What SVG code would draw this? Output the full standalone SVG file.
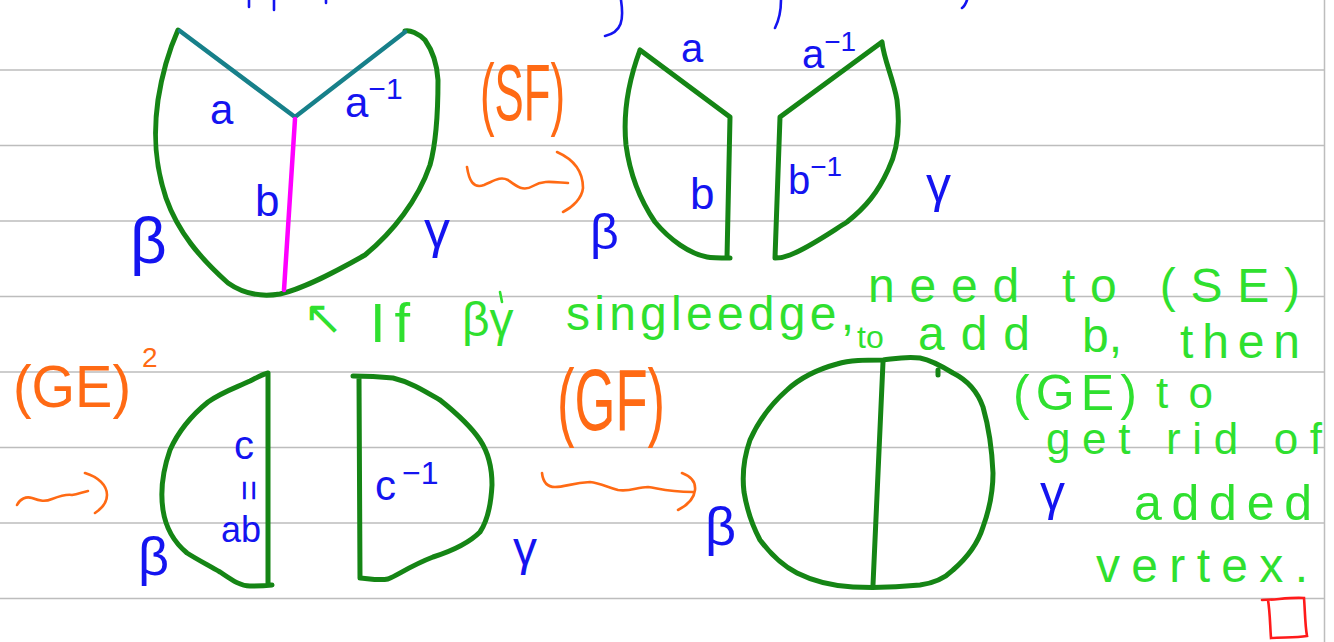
<svg xmlns="http://www.w3.org/2000/svg" width="1334" height="642" viewBox="0 0 1334 642">
<style>
.rule{stroke:#bdbdbd;stroke-width:1.5;fill:none}
.out{stroke:#158515;stroke-width:5;fill:none;stroke-linecap:round;stroke-linejoin:round}
.teal{stroke:#17808a;stroke-width:4.5;fill:none;stroke-linecap:round}
.mag{stroke:#ff00ff;stroke-width:4.5;fill:none;stroke-linecap:round}
.or{stroke:#ff6a14;stroke-width:2.6;fill:none;stroke-linecap:round;stroke-linejoin:round}
.bl{stroke:#1414f0;stroke-width:2.6;fill:none;stroke-linecap:round}
.tb{fill:#1414f0;font-family:"Liberation Sans",Arial,sans-serif}
.tg{fill:#2fe02f;font-family:"Liberation Sans",Arial,sans-serif}
.to{fill:#ff6a14;font-family:"Liberation Sans",Arial,sans-serif}
</style>
<rect width="1334" height="642" fill="#ffffff"/>
<g id="paper">
<path class="rule" d="M0,70H1324M0,145.5H1324M0,221H1324M0,296.5H1324M0,372H1324M0,447.5H1324M0,523H1324M0,598.5H1324M1324.5,0V642"/>
</g>
<g id="top-fragments">
<path class="bl" d="M249,0V7M274,0V10M326,0V3M621,0C624,20 622,32 605,36M781,0C781,10 779,20 775,28M967,0C966,3 965,6 962,8"/>
</g>
<g id="fig1">
<path class="out" d="M178,30C170,48 163,68 158,100C153,135 155,165 166,198C178,232 200,258 228,283C245,295 262,297 280,294C305,288 335,272 365,255C393,232 418,200 430,165C437,140 438,110 438,80C437,62 432,50 425,40C418,33 410,30 405,31"/>
<path class="teal" d="M180,31L295,117L405,32"/>
<path class="mag" d="M295,119L284,290"/>
<text class="tb" x="210" y="124" font-size="42">a</text>
<text class="tb" x="345" y="117" font-size="42">a<tspan font-size="30" dy="-18">−1</tspan></text>
<text class="tb" x="255" y="216" font-size="44">b</text>
<text class="tb" x="130" y="263" font-size="64">β</text>
<text class="tb" x="424" y="247" font-size="52">γ</text>
</g>
<g id="arrow-sf">
<text class="to" x="480" y="120" font-size="80" textLength="85" lengthAdjust="spacingAndGlyphs">(SF)</text>
<path class="or" d="M467,167C469,180 473,189 484,185C494,181 500,176 508,180C516,186 523,192 533,186C543,180 552,182 568,183"/>
<path class="or" d="M557,152C575,160 583,172 583,188C582,198 573,207 563,212"/>
</g>
<g id="fig2-left">
<path class="out" d="M640,50L730,117L727,258M730,258C720,258 712,258 707,257C690,254 670,240 655,222C640,200 630,175 626,145C623,115 627,85 640,50"/>
<text class="tb" x="681" y="62" font-size="40">a</text>
<text class="tb" x="690" y="209" font-size="44">b</text>
<text class="tb" x="590" y="249" font-size="50">β</text>
</g>
<g id="fig2-right">
<path class="out" d="M775,258L780,117L882,42C884,60 893,78 897,100C900,125 898,150 888,170C878,192 866,207 847,222C825,236 808,248 790,255C783,258 778,258 775,258"/>
<text class="tb" x="802" y="68" font-size="40">a<tspan font-size="28" dy="-17">−1</tspan></text>
<text class="tb" x="788" y="194" font-size="40">b<tspan font-size="28" dy="-18">−1</tspan></text>
<text class="tb" x="926" y="202" font-size="50">γ</text>
</g>
<g id="note">
<text class="tg" x="303" y="334" font-size="48">↖</text>
<text class="tg" x="370" y="342" font-size="56" textLength="40" lengthAdjust="spacing">If</text>
<text class="tg" x="462" y="336" font-size="48">βγ</text>
<path d="M500,292L502,302" stroke="#2fe02f" stroke-width="2.6" stroke-linecap="round"/>
<text class="tg" x="566" y="330" font-size="48" textLength="288" lengthAdjust="spacing">singleedge,</text>
<text class="tg" x="868" y="302" font-size="48" textLength="432" lengthAdjust="spacing">need  to  (SE)</text>
<text class="tg" x="857" y="348" font-size="32">to</text>
<text class="tg" x="918" y="350" font-size="48" textLength="112" lengthAdjust="spacing">add</text>
<text class="tg" x="1082" y="352" font-size="48">b,</text>
<text class="tg" x="1180" y="358" font-size="48" textLength="120" lengthAdjust="spacing">then</text>
<text class="tg" x="1013" y="410" font-size="50" textLength="124" lengthAdjust="spacing">(GE)</text>
<text class="tg" x="1156" y="408" font-size="44" textLength="57" lengthAdjust="spacing">to</text>
<text class="tg" x="1046" y="454" font-size="44" textLength="276" lengthAdjust="spacing">get rid of</text>
<text class="tg" x="1134" y="520" font-size="50" textLength="178" lengthAdjust="spacing">added</text>
<text class="tg" x="1096" y="582" font-size="48" textLength="212" lengthAdjust="spacing">vertex.</text>
</g>
<g id="arrow-ge">
<text class="to" x="13" y="407" font-size="60" textLength="118" lengthAdjust="spacingAndGlyphs">(GE)</text>
<text class="to" x="142" y="367" font-size="28">2</text>
<path class="or" d="M17,505C20,499 26,496 32,498C40,501 45,502 52,499C60,496 66,494 72,495C78,494 83,492 88,491"/>
<path class="or" d="M85,473C98,477 107,485 107,495C107,503 101,509 95,513"/>
</g>
<g id="fig3-left">
<path class="out" d="M268,373L268,585M272,585C262,586 255,586 250,586C240,586 232,580 220,572C208,565 198,560 187,553C175,543 166,530 163,510C160,490 163,470 170,450C178,432 192,415 208,402C222,392 235,388 250,381C258,377 263,374 268,373"/>
<text class="tb" x="234" y="459" font-size="40">c</text>
<text class="tb" x="0" y="0" font-size="36" transform="translate(237,480) rotate(90)">=</text>
<text class="tb" x="221" y="542" font-size="36">ab</text>
<text class="tb" x="138" y="575" font-size="54">β</text>
</g>
<g id="fig3-right">
<path class="out" d="M359,377L360,578M353,376C370,376 383,377 393,378C410,382 423,390 440,400C455,412 470,425 480,440C490,455 492,470 492,485C491,505 488,520 480,532C470,542 455,550 433,557C410,566 398,575 388,579C378,581 366,578 360,578"/>
<text class="tb" x="375" y="500" font-size="42">c<tspan font-size="32" dx="6" dy="-16">−1</tspan></text>
<text class="tb" x="513" y="565" font-size="48">γ</text>
</g>
<g id="arrow-gf">
<text class="to" x="557" y="430" font-size="88" textLength="108" lengthAdjust="spacingAndGlyphs">(GF)</text>
<path class="or" d="M542,473C543,482 547,487 555,487C565,487 572,483 590,482C600,483 607,487 618,490C630,492 637,487 648,487C658,488 665,492 693,492"/>
<path class="or" d="M682,473C690,476 696,481 695,490C694,499 688,505 678,510"/>
</g>
<g id="fig4">
<path class="out" d="M883,360C865,360 850,360 837,364C815,370 800,378 787,390C770,405 758,422 750,440C744,457 742,475 744,492C747,510 752,525 760,540C772,556 785,567 797,573C815,582 833,586 853,587C875,588 900,587 920,585C935,583 945,578 953,570C968,557 978,543 983,527C991,505 993,490 993,473C992,450 989,428 983,407C977,390 967,380 953,373C940,365 930,360 920,358C905,356 893,359 883,360Z"/>
<path class="out" d="M883,362L873,585"/>
<path class="out" d="M938,370L938,375" stroke-width="3"/>
<text class="tb" x="705" y="545" font-size="54">β</text>
<text class="tb" x="1040" y="510" font-size="50">γ</text>
</g>
<g id="qed">
<path d="M1262,600C1275,600 1290,597 1304,598C1305,610 1305,625 1307,636C1295,638 1283,637 1271,638C1270,625 1270,612 1268,600" fill="none" stroke="#ff1a1a" stroke-width="2.6" stroke-linecap="round"/>
</g>
</svg>
